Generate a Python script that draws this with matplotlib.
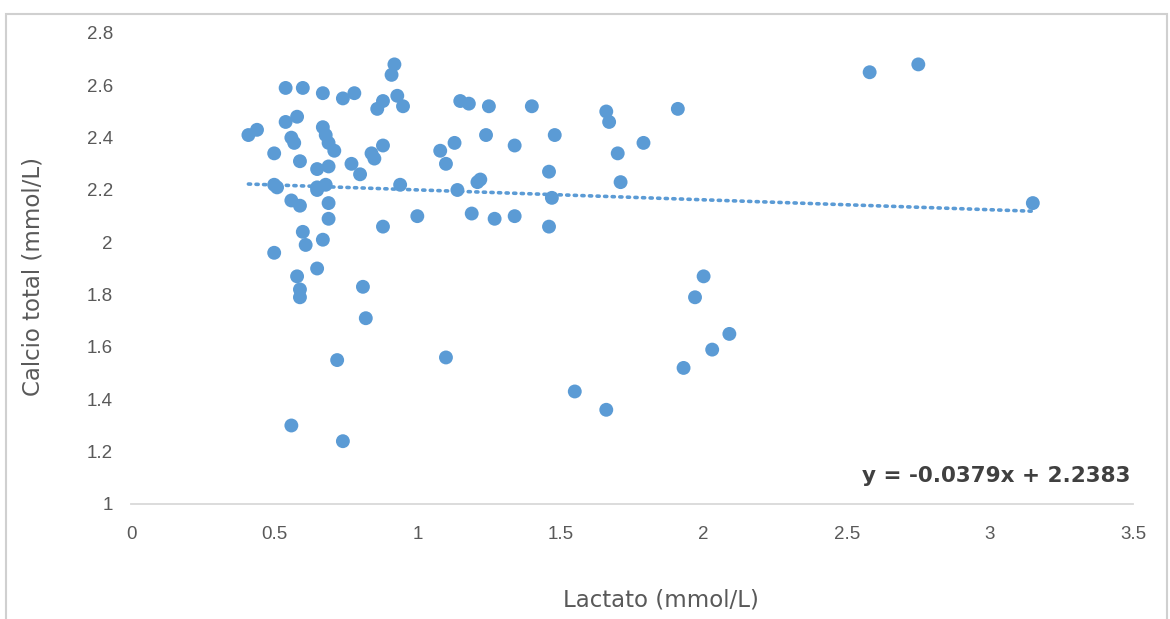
import matplotlib
matplotlib.use("Agg")
import matplotlib.pyplot as plt
import numpy as np
from matplotlib.patches import Rectangle

# lactato (mmol/L) vs calcio total (mmol/L)
lactato = [
    0.41, 0.44, 0.50, 0.50, 0.51, 0.50, 0.54, 0.54, 0.58, 0.56,
    0.57, 0.60, 0.59, 0.56, 0.59, 0.60, 0.61, 0.58, 0.59, 0.59,
    0.56, 0.67, 0.67, 0.68, 0.69, 0.71, 0.65, 0.69, 0.65, 0.68,
    0.65, 0.69, 0.69, 0.67, 0.65, 0.74, 0.78, 0.77, 0.80, 0.72,
    0.74, 0.81, 0.82, 0.88, 0.86, 0.92, 0.91, 0.93, 0.95, 0.88,
    0.84, 0.85, 0.94, 0.88, 1.00, 1.08, 1.10, 1.13, 1.15, 1.18,
    1.14, 1.19, 1.21, 1.22, 1.24, 1.25, 1.10, 1.27, 1.34, 1.34,
    1.40, 1.46, 1.46, 1.47, 1.48, 1.55, 1.66, 1.67, 1.70, 1.71,
    1.79, 1.66, 1.91, 1.93, 1.97, 2.00, 2.03, 2.09, 2.58, 2.75,
    3.15,
]
calcio = [
    2.41, 2.43, 2.34, 2.22, 2.21, 1.96, 2.59, 2.46, 2.48, 2.40,
    2.38, 2.59, 2.31, 2.16, 2.14, 2.04, 1.99, 1.87, 1.82, 1.79,
    1.30, 2.57, 2.44, 2.41, 2.38, 2.35, 2.28, 2.29, 2.21, 2.22,
    2.20, 2.15, 2.09, 2.01, 1.90, 2.55, 2.57, 2.30, 2.26, 1.55,
    1.24, 1.83, 1.71, 2.54, 2.51, 2.68, 2.64, 2.56, 2.52, 2.37,
    2.34, 2.32, 2.22, 2.06, 2.10, 2.35, 2.30, 2.38, 2.54, 2.53,
    2.20, 2.11, 2.23, 2.24, 2.41, 2.52, 1.56, 2.09, 2.37, 2.10,
    2.52, 2.27, 2.06, 2.17, 2.41, 1.43, 2.50, 2.46, 2.34, 2.23,
    2.38, 1.36, 2.51, 1.52, 1.79, 1.87, 1.59, 1.65, 2.65, 2.68,
    2.15,
]

# linear trend shown on the chart
slope = -0.0379
intercept = 2.2383
equation = "y = -0.0379x + 2.2383"

x_ticks = [0, 0.5, 1, 1.5, 2, 2.5, 3, 3.5]
y_ticks = [1, 1.2, 1.4, 1.6, 1.8, 2, 2.2, 2.4, 2.6, 2.8]

blue = "#5B9BD5"
grey_text = "#595959"
plt.rcParams["font.family"] = ["Liberation Sans", "DejaVu Sans"]

fig = plt.figure(figsize=(11.7, 6.19), dpi=100)
ax = fig.add_axes([0.112, 0.1858, 0.8564, 0.7609])

ax.scatter(lactato, calcio, s=100, color=blue, edgecolors="none", zorder=3)

xs = np.array([min(lactato), max(lactato)])
ax.plot(xs, slope * xs + intercept, color=blue, linewidth=2.6,
        linestyle=(0, (0.6, 1.5)), dash_capstyle="round", zorder=2)

ax.set_xlim(0, 3.5)
ax.set_ylim(1, 2.8)
ax.set_xticks(x_ticks)
ax.set_xticklabels([f"{t:g}" for t in x_ticks])
ax.set_yticks(y_ticks)
ax.set_yticklabels([f"{t:g}" for t in y_ticks])
ax.tick_params(length=0, labelsize=13.5, colors=grey_text)
ax.tick_params(axis="x", pad=16)
ax.tick_params(axis="y", pad=13)

for side in ["top", "right", "left"]:
    ax.spines[side].set_visible(False)
ax.spines["bottom"].set_color("#D9D9D9")
ax.spines["bottom"].set_linewidth(1.3)

fig.text(661 / 1170, 1 - 600 / 619, "Lactato (mmol/L)", ha="center", va="center",
         fontsize=16.5, color=grey_text, family="DejaVu Sans")
fig.text(33 / 1170, 1 - 277 / 619, "Calcio total (mmol/L)", ha="center", va="center",
         rotation=90, fontsize=16.5, color=grey_text, family="DejaVu Sans")

ax.text(0.997, 0.06, equation, transform=ax.transAxes, ha="right", va="center",
        fontsize=15.5, fontweight="bold", color="#404040", family="DejaVu Sans")

# outer chart frame
fig.patches.append(Rectangle((6 / 1170, -0.01), 1161 / 1170, (605 / 619) + 0.01,
                             transform=fig.transFigure, fill=False,
                             edgecolor="#D0D0D0", linewidth=1.5))

fig.savefig("out.png", dpi=100)
